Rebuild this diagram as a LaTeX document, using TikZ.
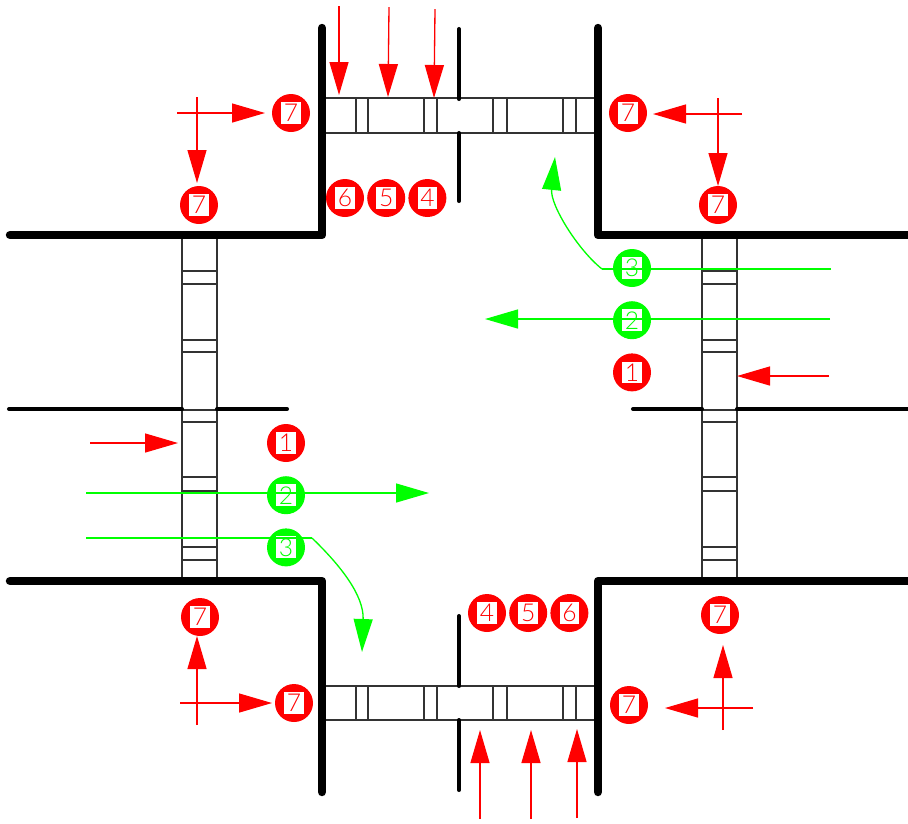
\documentclass[tikz,border=0pt]{standalone}
\usepackage{xcolor}
\usepackage{fontspec}
\usepackage{tikz}
\usetikzlibrary{arrows.meta,positioning}
\newfontfamily\lampfont{Lato Light}
\definecolor{lampred}{HTML}{FF0000}
\definecolor{lampgreen}{HTML}{00FF00}
\definecolor{walkgrey}{HTML}{333333}
\newcommand{\lampdigit}[1]{\setlength{\fboxsep}{1.2pt}\colorbox{white}{\hspace{0.3pt}#1\hspace{0.3pt}}}
\tikzset{
  wall/.style={line width=4.8pt, line cap=round, line join=round},
  median/.style={line width=2.3pt, line cap=round},
  walkline/.style={draw=walkgrey, line width=0.75pt},
  redlamp/.style={
    circle, fill=lampred, text=lampred, inner sep=0pt,
    minimum size=0.76cm, font=\lampfont\fontsize{14}{14}\selectfont
  },
  greenlamp/.style={
    circle, fill=lampgreen, text=lampgreen, inner sep=0pt,
    minimum size=0.76cm, font=\lampfont\fontsize{14}{14}\selectfont
  },
  redarrow/.style={-{Triangle[length=0.66cm,width=0.38cm]}, lampred, line width=0.75pt},
  greenarrow/.style={-{Triangle[length=0.66cm,width=0.38cm]}, lampgreen, line width=0.75pt},
  greenline/.style={lampgreen, line width=0.75pt},
}
\begin{document}
\begin{tikzpicture}[x=0.02cm,y=-0.02cm,node distance=0.27cm and 0.05cm]
    \useasboundingbox (0,0) rectangle (908,823);
    % crosswalks
    \foreach \yt/\yb in {98/133,686/720}{
      \draw[walkline] (326,\yt) -- (594,\yt);
      \draw[walkline] (326,\yb) -- (594,\yb);
      \foreach \x in {356,368,424,437,493,507,563,576}
        \draw[walkline] (\x,\yt) -- (\x,\yb);
    }
    \foreach \xl/\xr in {182/217,702/737}{
      \draw[walkline] (\xl,238) -- (\xl,577);
      \draw[walkline] (\xr,238) -- (\xr,577);
      \foreach \y in {271,284,340,352,410,422,477,491,547,560}
        \draw[walkline] (\xl,\y) -- (\xr,\y);
    }
    % kerbs and centre lines
    \draw[wall] (10,235) -- (322,235) -- (322,28);
    \draw[wall] (598,28) -- (598,235) -- (908,235);
    \draw[wall] (10,581) -- (322,581) -- (322,792);
    \draw[wall] (598,792) -- (598,581) -- (908,581);
    \draw[median] (459,29) -- (459,99);
    \draw[median] (459,133) -- (459,201);
    \draw[median] (459,616) -- (459,686);
    \draw[median] (459,720) -- (459,790);
    \draw[median] (9,409) -- (182,409);
    \draw[median] (217,409) -- (287,409);
    \draw[median] (633,409) -- (702,409);
    \draw[median] (737,409) -- (908,409);
    % lamps
    \node[redlamp] (nwa) at (291,113) {\lampdigit{7}};
    \node[redlamp] (nwb) at (199,205) {\lampdigit{7}};
    \node[redlamp] (nea) at (628,113) {\lampdigit{7}};
    \node[redlamp] (neb) at (718,205) {\lampdigit{7}};
    \node[redlamp] (swa) at (294,703) {\lampdigit{7}};
    \node[redlamp] (swb) at (200,617) {\lampdigit{7}};
    \node[redlamp] (sea) at (629,705) {\lampdigit{7}};
    \node[redlamp] (seb) at (720,615) {\lampdigit{7}};
    \node[redlamp] (nsix) at (345,198) {\lampdigit{6}};
    \node[redlamp, right=of nsix] (nfive) {\lampdigit{5}};
    \node[redlamp, right=of nfive] (nfour) {\lampdigit{4}};
    \node[redlamp] (sfour) at (487,613) {\lampdigit{4}};
    \node[redlamp, right=of sfour] (sfive) {\lampdigit{5}};
    \node[redlamp, right=of sfive] (ssix) {\lampdigit{6}};
    \node[greenlamp] (ethree) at (632,268) {\lampdigit{3}};
    \node[greenlamp, below=of ethree] (etwo) {\lampdigit{2}};
    \node[redlamp, below=of etwo] (eone) {\lampdigit{1}};
    \node[redlamp] (wone) at (286,443) {\lampdigit{1}};
    \node[greenlamp, below=of wone] (wtwo) {\lampdigit{2}};
    \node[greenlamp, below=of wtwo] (wthree) {\lampdigit{3}};
    % free ends of the arrows
    \foreach \n/\x/\y in {ta/339/6,tb/389/7,tc/435/9,tatip/339/95,tbtip/388/97,tctip/434/98,
      ba/480/819,bb/531/819,bc/577/818,batip/480/730,bbtip/531/730,bctip/577/729,
      nwh/177/113,nwhtip/265/113,nwv/197/97,nwvtip/197/183,
      neh/742/114,nehtip/653/114,nev/718/98,nevtip/718/186,
      swh/180/703,swhtip/272/703,swv/197/725,swvtip/197/636,
      seh/753/708,sehtip/665/708,sev/723/730,sevtip/723/645,
      wr/90/443,wrtip/178/443,er/829/376,ertip/737/376,
      wg/86/493,wgtip/429/493,eg/830/319,egtip/485/319,
      wt/86/538,wtbend/312/538,wttip/362/652,et/831/269,etbend/602/269,ettip/555/157}
      \coordinate (\n) at (\x,\y);
    % red arrows
    \foreach \n in {ta,tb,tc,ba,bb,bc,nwh,nwv,neh,nev,swh,swv,seh,sev,wr,er}
      \draw[redarrow] (\n) -- (\n tip);
    % green arrows
    \draw[greenarrow] (wg) -- (wgtip);
    \draw[greenarrow] (eg) -- (egtip);
    \draw[greenline] (wt) -- (wtbend);
    \draw[greenline] (et) -- (etbend);
    \draw[greenarrow] (wtbend) .. controls (340,565) and (364,595) .. (wttip);
    \draw[greenarrow] (etbend) .. controls (578,250) and (550,205) .. (ettip);
  \end{tikzpicture}
\end{document}
